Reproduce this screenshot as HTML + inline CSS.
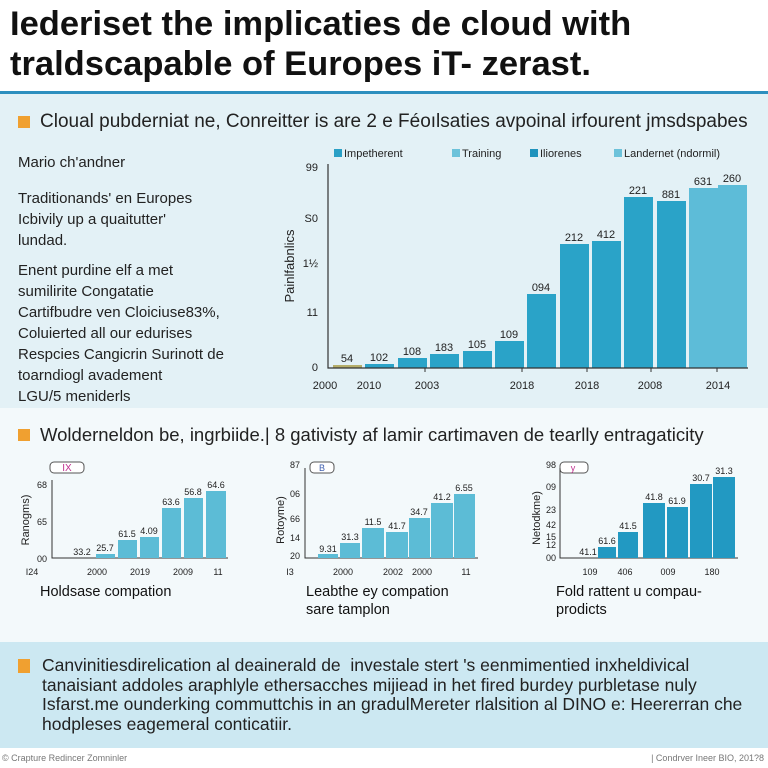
<!DOCTYPE html>
<html><head><meta charset="utf-8"><style>
body{margin:0;width:768px;height:768px;overflow:hidden;background:#fff;font-family:"Liberation Sans",sans-serif}
.a{position:absolute;white-space:nowrap}
</style></head><body>
<div style="position:relative;width:768px;height:768px">
<div class="a" style="left:0;top:94px;width:768px;height:314px;background:#e3f1f6"></div>
<div class="a" style="left:0;top:408px;width:768px;height:234px;background:#f3f9fb"></div>
<div class="a" style="left:0;top:642px;width:768px;height:106px;background:#cce8f2"></div>
<div class="a" style="left:0;top:91px;width:768px;height:3px;background:#2d8fbf"></div>
<div class="a" style="left:10px;top:4px;font-size:34.5px;font-weight:bold;line-height:40px;color:#111">Iederiset the implicaties de cloud with<br>traldscapable of Europes iT- zerast.</div>
<div class="a" style="left:18px;top:116px;width:12px;height:12px;background:#f0a030"></div>
<div class="a" style="left:40px;top:111px;font-size:19px;color:#222">Cloual pubderniat ne, Conreitter is are 2 e Féoılsaties avpoinal irfourent jmsdspabes</div>
<div class="a" style="left:18px;top:152px;font-size:15px;line-height:21px;color:#222">Mario ch'andner</div>
<div class="a" style="left:18px;top:188px;font-size:15px;line-height:21px;color:#222">Traditionands' en Europes<br>Icbivily up a quaitutter'<br>lundad.</div>
<div class="a" style="left:18px;top:260px;font-size:15px;line-height:21px;color:#222">Enent purdine elf a met<br>sumilirite Congatatie<br>Cartifbudre ven Cloiciuse83%,<br>Coluierted all our edurises<br>Respcies Cangicrin Surinott de<br>toarndiogl avadement<br>LGU/5 meniderls</div>
<svg class="a" style="left:0;top:0" width="768" height="768" font-family="Liberation Sans, sans-serif">
<g font-size="11" fill="#222">
<rect x="334" y="149" width="8" height="8" fill="#2aa0c6"/><text x="344" y="157">Impetherent</text>
<rect x="452" y="149" width="8" height="8" fill="#6cc2da"/><text x="462" y="157">Training</text>
<rect x="530" y="149" width="8" height="8" fill="#1f93bd"/><text x="540" y="157">Iliorenes</text>
<rect x="614" y="149" width="8" height="8" fill="#6cc2da"/><text x="624" y="157">Landernet (ndormil)</text>
</g>
<g fill="#2aa3c8">
<rect x="333" y="365" width="29" height="3" fill="#b5ae6a"/>
<rect x="365" y="364" width="29" height="4"/>
<rect x="398" y="358" width="29" height="10"/>
<rect x="430" y="354" width="29" height="14"/>
<rect x="463" y="351" width="29" height="17"/>
<rect x="495" y="341" width="29" height="27"/>
<rect x="527" y="294" width="29" height="74"/>
<rect x="560" y="244" width="29" height="124"/>
<rect x="592" y="241" width="29" height="127"/>
<rect x="624" y="197" width="29" height="171"/>
<rect x="657" y="201" width="29" height="167"/>
<rect x="689" y="188" width="29" height="180" fill="#5dbcd8"/>
<rect x="718" y="185" width="29" height="183" fill="#5dbcd8"/>
</g>
<g font-size="11" fill="#222" text-anchor="middle">
<text x="347" y="362">54</text><text x="379" y="361">102</text><text x="412" y="355">108</text><text x="444" y="351">183</text><text x="477" y="348">105</text><text x="509" y="338">109</text><text x="541" y="291">094</text><text x="574" y="241">212</text><text x="606" y="238">412</text><text x="638" y="194">221</text><text x="671" y="198">881</text><text x="703" y="185">631</text><text x="732" y="182">260</text>
<text x="325" y="389">2000</text><text x="369" y="389">2010</text><text x="427" y="389">2003</text><text x="522" y="389">2018</text><text x="587" y="389">2018</text><text x="650" y="389">2008</text><text x="718" y="389">2014</text>
</g>
<g font-size="11" fill="#222" text-anchor="end">
<text x="318" y="171">99</text><text x="318" y="222">S0</text><text x="318" y="267">1½</text><text x="318" y="316">11</text><text x="318" y="371">0</text>
</g>
<path d="M328 164V368H748" stroke="#333" fill="none" stroke-width="1.2"/>
<g stroke="#333"><line x1="425" y1="368" x2="425" y2="372"/><line x1="522" y1="368" x2="522" y2="372"/><line x1="587" y1="368" x2="587" y2="372"/><line x1="651" y1="368" x2="651" y2="372"/><line x1="717" y1="368" x2="717" y2="372"/></g>
<text transform="translate(294,266) rotate(-90)" font-size="13" fill="#222" text-anchor="middle">Painlfabnlics</text>

<rect x="50" y="462" width="34" height="11" rx="4" fill="#fff" stroke="#555"/><text x="67" y="471" font-size="10" fill="#c03090" text-anchor="middle">IX</text>
<path d="M52 480V558H228" stroke="#333" fill="none"/>
<g fill="#5cbcd6"><rect x="96" y="554" width="19" height="4"/><rect x="118" y="540" width="19" height="18"/><rect x="140" y="537" width="19" height="21"/><rect x="162" y="508" width="19" height="50"/><rect x="184" y="498" width="19" height="60"/><rect x="206" y="491" width="20" height="67"/></g>
<g font-size="9" fill="#222" text-anchor="middle"><text x="82" y="555">33.2</text><text x="105" y="551">25.7</text><text x="127" y="537">61.5</text><text x="149" y="534">4.09</text><text x="171" y="505">63.6</text><text x="193" y="495">56.8</text><text x="216" y="488">64.6</text>
<text x="32" y="575">I24</text><text x="97" y="575">2000</text><text x="140" y="575">2019</text><text x="183" y="575">2009</text><text x="218" y="575">11</text></g>
<g font-size="9" fill="#222" text-anchor="end"><text x="47" y="488">68</text><text x="47" y="525">65</text><text x="47" y="562">00</text></g>
<text transform="translate(29,520) rotate(-90)" font-size="11" fill="#222" text-anchor="middle">Ranogms)</text>
<text x="40" y="596" font-size="14.5" fill="#111">Holdsase compation</text>

<rect x="310" y="462" width="24" height="11" rx="4" fill="#fff" stroke="#555"/><text x="322" y="471" font-size="9" fill="#4060b0" text-anchor="middle">B</text>
<path d="M305 468V558H478" stroke="#333" fill="none"/>
<g fill="#5cbcd6"><rect x="318" y="554" width="20" height="4"/><rect x="340" y="543" width="20" height="15"/><rect x="362" y="528" width="22" height="30"/><rect x="386" y="532" width="22" height="26"/><rect x="409" y="518" width="21" height="40"/><rect x="431" y="503" width="22" height="55"/><rect x="454" y="494" width="21" height="64"/></g>
<g font-size="9" fill="#222" text-anchor="middle"><text x="328" y="552">9.31</text><text x="350" y="540">31.3</text><text x="373" y="525">11.5</text><text x="397" y="529">41.7</text><text x="419" y="515">34.7</text><text x="442" y="500">41.2</text><text x="464" y="491">6.55</text>
<text x="290" y="575">I3</text><text x="343" y="575">2000</text><text x="393" y="575">2002</text><text x="422" y="575">2000</text><text x="466" y="575">11</text></g>
<g font-size="9" fill="#222" text-anchor="end"><text x="300" y="468">87</text><text x="300" y="497">06</text><text x="300" y="522">66</text><text x="300" y="559">20</text><text x="300" y="541">14</text></g>
<text transform="translate(284,520) rotate(-90)" font-size="11" fill="#222" text-anchor="middle">Rotoyme)</text>
<text x="306" y="596" font-size="14.5" fill="#111">Leabthe ey compation</text>
<text x="306" y="614" font-size="14.5" fill="#111">sare tamplon</text>

<rect x="560" y="462" width="28" height="11" rx="4" fill="#fff" stroke="#555"/><text x="573" y="471" font-size="9" fill="#c03090" text-anchor="middle">y</text>
<path d="M560 468V558H738" stroke="#333" fill="none"/>
<g fill="#2299c2"><rect x="598" y="547" width="18" height="11"/><rect x="618" y="532" width="20" height="26"/><rect x="643" y="503" width="22" height="55"/><rect x="667" y="507" width="21" height="51"/><rect x="690" y="484" width="22" height="74"/><rect x="713" y="477" width="22" height="81"/></g>
<g font-size="9" fill="#222" text-anchor="middle"><text x="588" y="555">41.1</text><text x="607" y="544">61.6</text><text x="628" y="529">41.5</text><text x="654" y="500">41.8</text><text x="677" y="504">61.9</text><text x="701" y="481">30.7</text><text x="724" y="474">31.3</text>
<text x="590" y="575">109</text><text x="625" y="575">406</text><text x="668" y="575">009</text><text x="712" y="575">180</text></g>
<g font-size="9" fill="#222" text-anchor="end"><text x="556" y="468">98</text><text x="556" y="490">09</text><text x="556" y="513">23</text><text x="556" y="528">42</text><text x="556" y="540">15</text><text x="556" y="548">12</text><text x="556" y="561">00</text></g>
<text transform="translate(540,518) rotate(-90)" font-size="11" fill="#222" text-anchor="middle">Netodkme)</text>
<text x="556" y="596" font-size="14.5" fill="#111">Fold rattent u compau-</text>
<text x="556" y="614" font-size="14.5" fill="#111">prodicts</text>
</svg>
<div class="a" style="left:18px;top:429px;width:12px;height:12px;background:#f0a030"></div>
<div class="a" style="left:40px;top:424px;font-size:18.5px;color:#222">Wolderneldon be, ingrbiide.| 8 gativisty af lamir cartimaven de tearlly entragaticity</div>
<div class="a" style="left:18px;top:659px;width:12px;height:14px;background:#f0a030"></div>
<div class="a" style="left:42px;top:656px;font-size:17.5px;line-height:19.5px;color:#222">Canvinitiesdirelication al deainerald de &nbsp;investale stert 's eenmimentied inxheldivical<br>tanaisiant addoles araphlyle ethersacches mijiead in het fired burdey purbletase nuly<br>Isfarst.me ounderking commuttchis in an gradulMereter rlalsition al DINO e: Heererran che<br>hodpleses eagemeral conticatiir.</div>
<div class="a" style="left:2px;top:753px;font-size:9px;color:#777">© Crapture Redincer Zomninler</div>
<div class="a" style="right:4px;top:753px;font-size:9px;color:#777">| Condrver Ineer BIO, 201?8</div>
</div>
</body></html>
